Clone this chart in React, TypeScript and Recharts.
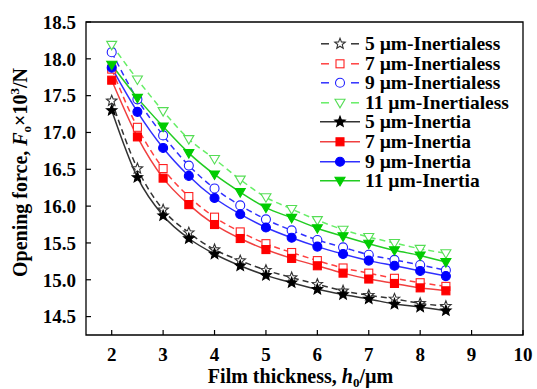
import React from "react";
import { LineChart, Line, XAxis, YAxis, ReferenceArea, Legend } from "recharts";

// film thickness h0 (µm)
const thickness = [2, 2.5, 3, 3.5, 4, 4.5, 5, 5.5, 6, 6.5, 7, 7.5, 8, 8.5];
const xTicks = [2, 3, 4, 5, 6, 7, 8, 9, 10];
const yTicks = [14.5, 15, 15.5, 16, 16.5, 17, 17.5, 18, 18.5];

// opening force ×10³ N
const free5 = [17.43, 16.51, 15.95, 15.64, 15.41, 15.26, 15.13, 15.03, 14.94, 14.85, 14.79, 14.74, 14.68, 14.64];
const free7 = [17.86, 17.07, 16.51, 16.13, 15.85, 15.65, 15.49, 15.37, 15.26, 15.16, 15.09, 15.02, 14.96, 14.91];
const free9 = [18.09, 17.45, 16.96, 16.55, 16.24, 16.01, 15.82, 15.67, 15.54, 15.44, 15.34, 15.27, 15.2, 15.13];
const free11 = [18.19, 17.72, 17.29, 16.91, 16.64, 16.36, 16.12, 15.96, 15.81, 15.68, 15.58, 15.5, 15.42, 15.36];
const inert5 = [17.3, 16.39, 15.87, 15.56, 15.35, 15.19, 15.06, 14.96, 14.87, 14.8, 14.74, 14.67, 14.63, 14.58];
const inert7 = [17.71, 16.94, 16.38, 16.02, 15.75, 15.56, 15.41, 15.29, 15.19, 15.09, 15.01, 14.95, 14.89, 14.85];
const inert9 = [17.88, 17.28, 16.79, 16.41, 16.11, 15.89, 15.71, 15.57, 15.45, 15.35, 15.26, 15.19, 15.12, 15.05];
const inert11 = [17.92, 17.47, 17.08, 16.72, 16.43, 16.19, 15.98, 15.84, 15.7, 15.59, 15.49, 15.4, 15.33, 15.24];

const data = thickness.map((h, i) => ({
  h,
  free5: free5[i], free7: free7[i], free9: free9[i], free11: free11[i],
  inert5: inert5[i], inert7: inert7[i], inert9: inert9[i], inert11: inert11[i],
}));

type Shape = "star" | "square" | "circle" | "tri";

interface Series {
  key: string;
  name: string;
  color: string;
  line: string;
  dashed: boolean;
  shape: Shape;
  filled: boolean;
}

const series: Series[] = [
  { key: "free5", name: "5 µm-Inertialess", color: "#333", line: "#333", dashed: true, shape: "star", filled: false },
  { key: "free7", name: "7 µm-Inertialess", color: "#ff2020", line: "#ff4040", dashed: true, shape: "square", filled: false },
  { key: "free9", name: "9 µm-Inertialess", color: "#2020ff", line: "#3030ff", dashed: true, shape: "circle", filled: false },
  { key: "free11", name: "11 µm-Inertialess", color: "#55dd55", line: "#66ee66", dashed: true, shape: "tri", filled: false },
  { key: "inert5", name: "5 µm-Inertia", color: "#000", line: "#333", dashed: false, shape: "star", filled: true },
  { key: "inert7", name: "7 µm-Inertia", color: "#ff0000", line: "#f04040", dashed: false, shape: "square", filled: true },
  { key: "inert9", name: "9 µm-Inertia", color: "#0000ff", line: "#3030ff", dashed: false, shape: "circle", filled: true },
  { key: "inert11", name: "11 µm-Inertia", color: "#00cc00", line: "#22cc22", dashed: false, shape: "tri", filled: true },
];

const FONT = "'Liberation Serif', 'Times New Roman', serif";

function starPath(cx: number, cy: number, ro: number, ri: number) {
  let d = "";
  for (let i = 0; i < 10; i++) {
    const r = i % 2 === 0 ? ro : ri;
    const a = -Math.PI / 2 + (i * Math.PI) / 5;
    d += (i === 0 ? "M" : "L") + (cx + r * Math.cos(a)).toFixed(2) + "," + (cy + r * Math.sin(a)).toFixed(2);
  }
  return d + "Z";
}

function Marker({ cx, cy, s }: { cx: number; cy: number; s: Series }) {
  const fill = s.filled ? s.color : "#fff";
  const sw = 1.1;
  if (s.shape === "star") return <path d={starPath(cx, cy, 5.5, 2.4)} fill={fill} stroke={s.color} strokeWidth={sw} />;
  if (s.shape === "square") return <rect x={cx - 4} y={cy - 4} width={8} height={8} fill={fill} stroke={s.color} strokeWidth={sw} />;
  if (s.shape === "circle") return <circle cx={cx} cy={cy} r={4.5} fill={fill} stroke={s.color} strokeWidth={sw} />;
  return <path d={`M${cx - 5},${cy - 3.5}L${cx + 5},${cy - 3.5}L${cx},${cy + 5}Z`} fill={fill} stroke={s.color} strokeWidth={sw} />;
}

function LegendBox() {
  return (
    <div style={{ fontFamily: FONT, fontWeight: "bold", fontSize: 19.5, lineHeight: "19.6px" }}>
      {series.map((s) => (
        <div key={s.key} style={{ display: "flex", alignItems: "center", height: 19.6 }}>
          <svg width={43} height={19.6} style={{ marginRight: 2 }}>
            {s.dashed ? (
              <>
                <line x1={1} x2={9} y1={9.8} y2={9.8} stroke={s.line} strokeWidth={1.5} />
                <line x1={31} x2={39} y1={9.8} y2={9.8} stroke={s.line} strokeWidth={1.5} />
              </>
            ) : (
              <line x1={0} x2={40} y1={9.8} y2={9.8} stroke={s.line} strokeWidth={1.5} />
            )}
            <Marker cx={20} cy={9.8} s={s} />
          </svg>
          <span>{s.name}</span>
        </div>
      ))}
    </div>
  );
}

function XTitle(props: any) {
  const { x, width } = props.viewBox;
  return (
    <text x={x + width / 2 - 4} y={383} textAnchor="middle" fontFamily={FONT} fontWeight="bold" fontSize={20} fill="#000">
      Film thickness, <tspan fontStyle="italic">h</tspan>
      <tspan fontSize={13} dy={4}>0</tspan>
      <tspan dy={-4}>/µm</tspan>
    </text>
  );
}

function YTitle(props: any) {
  const { y, height } = props.viewBox;
  const cy = y + height / 2 - 6;
  return (
    <text x={0} y={0} transform={`translate(27,${cy}) rotate(-90)`} textAnchor="middle" fontFamily={FONT} fontWeight="bold" fontSize={20} fill="#000">
      Opening force, <tspan fontStyle="italic">F</tspan>
      <tspan fontSize={13} dy={4}>o</tspan>
      <tspan dy={-4}>×10</tspan>
      <tspan fontSize={13} dy={-8}>3</tspan>
      <tspan dy={8}>/N</tspan>
    </text>
  );
}

export default function App() {
  const tick = { fontFamily: FONT, fontWeight: "bold", fontSize: 19, fill: "#000" };
  return (
    <div style={{ position: "absolute", left: 0, top: 0, width: 537, height: 389, background: "#fff" }}>
      <LineChart width={537} height={389} data={data} margin={{ top: 22, right: 14, bottom: 0, left: 0 }}>
        <XAxis
          dataKey="h"
          type="number"
          domain={[1.5, 10]}
          ticks={xTicks}
          allowDataOverflow
          height={54}
          axisLine={false}
          tickSize={-5}
          tickMargin={18}
          tickLine={{ stroke: "#000", strokeWidth: 1.2 }}
          tick={tick}
          label={{ content: XTitle }}
        />
        <YAxis
          type="number"
          domain={[14.25, 18.5]}
          ticks={yTicks}
          allowDataOverflow
          width={86}
          axisLine={false}
          tickSize={-5}
          tickMargin={15}
          tickLine={{ stroke: "#000", strokeWidth: 1.2 }}
          tick={tick}
          tickFormatter={(v: number) => v.toFixed(1)}
          label={{ content: YTitle }}
        />
        <ReferenceArea x1={1.5} x2={10} y1={14.25} y2={18.5} fill="none" stroke="#000" strokeWidth={1.3} ifOverflow="visible" />
        {series.map((s) => (
          <Line
            key={s.key}
            dataKey={s.key}
            name={s.name}
            type="monotone"
            stroke={s.line}
            strokeWidth={1.5}
            strokeDasharray={s.dashed ? "6 4" : undefined}
            isAnimationActive={false}
            dot={(p: any) => <Marker key={`${s.key}-${p.index}`} cx={p.cx} cy={p.cy} s={s} />}
            activeDot={false}
          />
        ))}
        <Legend
          layout="vertical"
          align="center"
          verticalAlign="middle"
          content={() => <LegendBox />}
          wrapperStyle={{ left: 320, top: 34, width: 215 }}
        />
      </LineChart>
    </div>
  );
}
